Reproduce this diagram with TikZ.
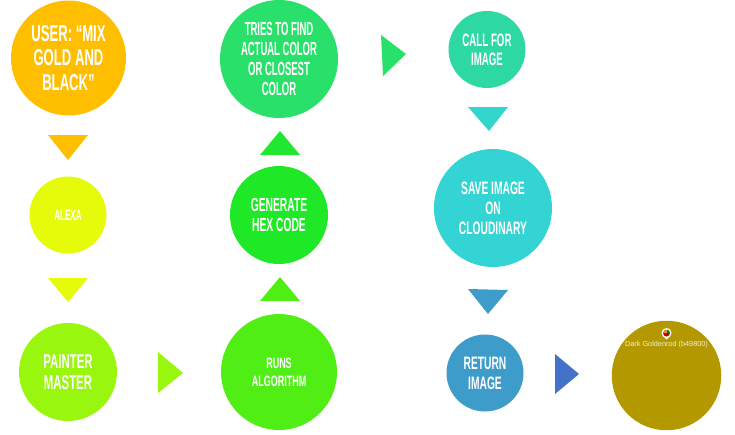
\documentclass[tikz,border=0pt]{standalone}
\usepackage{fontspec}
\setmainfont{Liberation Sans}
\newfontfamily\bebA[FakeStretch=0.50]{Liberation Sans}
\newfontfamily\bebB[FakeStretch=0.54]{Liberation Sans}
\newfontfamily\bebC[FakeStretch=0.57]{Liberation Sans}
\newfontfamily\bebD[FakeStretch=0.60]{Liberation Sans}
\definecolor{cUser}{HTML}{FFBF00}
\definecolor{cAlexa}{HTML}{E6FB0A}
\definecolor{cPainter}{HTML}{99F70F}
\definecolor{cRuns}{HTML}{50EE14}
\definecolor{cGen}{HTML}{1FE826}
\definecolor{cTries}{HTML}{29E16A}
\definecolor{cCall}{HTML}{2ED8A2}
\definecolor{cSave}{HTML}{35D4D4}
\definecolor{cReturn}{HTML}{3E9CCB}
\definecolor{cArrow}{HTML}{4472C8}
\definecolor{cFinal}{HTML}{B49800}
\tikzset{
  stepdisc/.style={circle,inner sep=0pt,text=white,align=center},
}
\begin{document}
\begin{tikzpicture}[x=1pt,y=-1pt]
\useasboundingbox (0,0) rectangle (735,434);
% discs
\node[stepdisc,fill=cUser,minimum size=115pt,font=\bebC\bfseries\fontsize{23}{24.5}\selectfont] (user) at (68.5,58) {USER: “MIX\\GOLD AND\\BLACK”};
\node[stepdisc,fill=cAlexa,minimum size=77pt,font=\bebB\bfseries\fontsize{15}{18}\selectfont] (alexa) at (68,215) {ALEXA};
\node[stepdisc,fill=cPainter,minimum size=98pt,font=\bebC\bfseries\fontsize{20}{21}\selectfont] (painter) at (68,372) {PAINTER\\MASTER};
\node[stepdisc,fill=cRuns,minimum size=116pt,font=\bebD\bfseries\fontsize{15}{18}\selectfont] (runs) at (279,372) {RUNS\\ALGORITHM};
\node[stepdisc,fill=cGen,minimum size=98pt,font=\bebB\bfseries\fontsize{19}{20}\selectfont] (gen) at (279,215) {GENERATE\\HEX CODE};
\node[stepdisc,fill=cTries,minimum size=118pt,font=\bebA\bfseries\fontsize{19}{20}\selectfont] (tries) at (279,59) {TRIES TO FIND\\ACTUAL COLOR\\OR CLOSEST\\COLOR};
\node[stepdisc,fill=cCall,minimum size=77pt,font=\bebB\bfseries\fontsize{18}{19}\selectfont] (call) at (487,49.5) {CALL FOR\\IMAGE};
\node[stepdisc,fill=cSave,minimum size=118pt,font=\bebC\bfseries\fontsize{18}{20}\selectfont] (save) at (493,208) {SAVE IMAGE\\ON\\CLOUDINARY};
\node[stepdisc,fill=cReturn,minimum size=77pt,font=\bebC\bfseries\fontsize{18}{20}\selectfont] (ret) at (485,373) {RETURN\\IMAGE};
\node[circle,inner sep=0pt,fill=cFinal,minimum size=109.5pt] (final) at (666.5,375.5) {};
\node[text=white!85!cFinal,font=\fontsize{7.3}{8}\selectfont,inner sep=0pt] (lbl) at (666.5,345) {Dark Goldenrod (b49800)};
% small marker
\node[circle,fill=white,minimum size=10pt,inner sep=0pt] (mark) at (666.5,333) {};
\fill[white] (663,336) -- (666.5,339.5) -- (670,336) -- cycle;
\fill[red!75!black] (mark.center) ++(-3.5,0) arc[start angle=180,end angle=360,radius=3.5pt] -- cycle;
\fill[green!50!black] (mark.center) ++(3.5,0) arc[start angle=0,end angle=90,radius=3.5pt] -- (mark.center) -- cycle;
\fill[orange] (mark.center) ++(0,-3.5) arc[start angle=90,end angle=180,radius=3.5pt] -- (mark.center) -- cycle;
% triangles
\fill[cUser] (48,135) -- (88,135) -- (68,160) -- cycle;
\fill[cAlexa] (48,278) -- (88,278) -- (68,302) -- cycle;
\fill[cPainter] (158,352) -- (158,393) -- (183,373) -- cycle;
\fill[cRuns] (260,301) -- (300,301) -- (280,277) -- cycle;
\fill[cGen!85!cTries] (260,155) -- (300,155) -- (280,131) -- cycle;
\fill[cTries] (381,35) -- (383,76) -- (406,54) -- cycle;
\fill[cSave!85!cCall] (468,107) -- (508,107) -- (489,131) -- cycle;
\fill[cReturn] (468,289) -- (508,290) -- (488,314) -- cycle;
\fill[cArrow] (555,354) -- (555,394) -- (579,374) -- cycle;
\end{tikzpicture}
\end{document}
